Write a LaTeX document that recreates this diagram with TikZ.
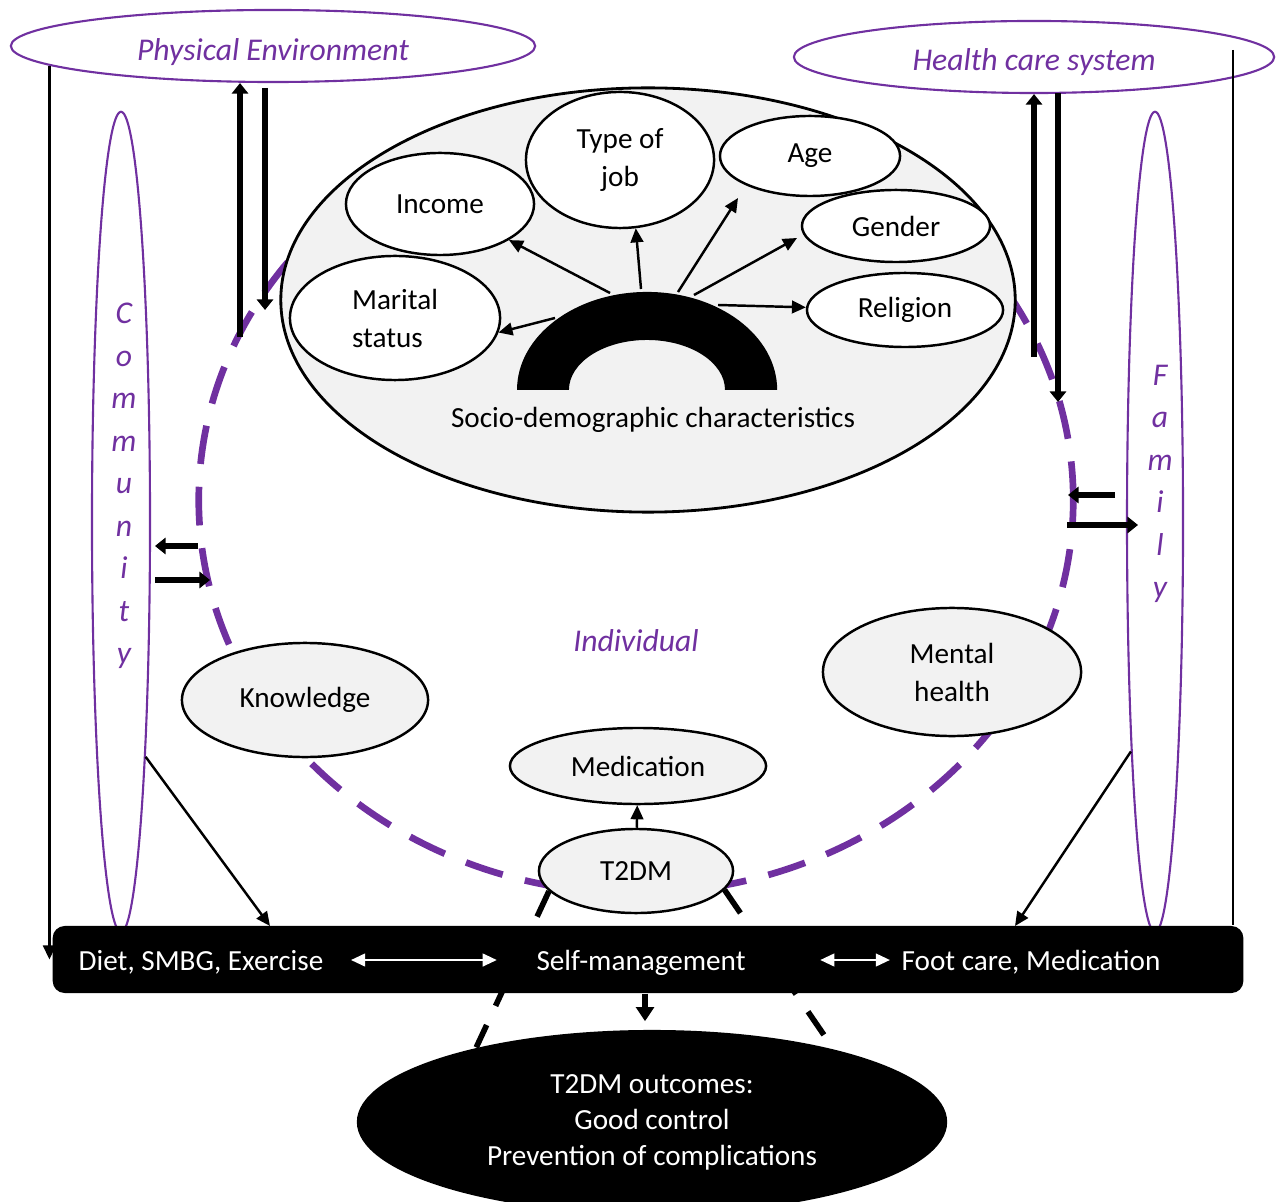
\documentclass[tikz,border=0pt]{standalone}
\usepackage{fontspec}
\setmainfont{Carlito}
\usepackage{xcolor}
\usepackage{tikz}
\usetikzlibrary{shapes.geometric,arrows.meta}
\definecolor{violetline}{HTML}{7030A0}
\definecolor{paleback}{HTML}{F2F2F2}

\begin{document}
\begin{tikzpicture}[x=0.01cm, y=-0.01cm,
  every node/.style={font=\fontsize{8.3}{10.8}\selectfont},
  outeroval/.style={ellipse, draw=violetline, line width=0.6pt, inner sep=0pt},
  ovallabel/.style={text=violetline, font=\fontsize{9}{12.1}\selectfont\itshape, inner sep=0pt, align=center},
  whiteoval/.style={ellipse, draw, fill=white, line width=0.7pt, inner sep=0pt, align=center},
  greyoval/.style={ellipse, draw, fill=paleback, line width=0.7pt, inner sep=0pt, align=center},
  thinarrow/.style={line width=0.7pt, -{Triangle[length=4pt, width=3.6pt]}},
  boldarrow/.style={line width=1.9pt, -{Triangle[length=3pt, width=4.6pt]}},
  blackdash/.style={line width=1.6pt, dash pattern=on 8pt off 6pt},
  bartext/.style={text=white, inner sep=0pt, text height=1.6ex, text depth=0.4ex},
  whitearrow/.style={white, line width=0.6pt, {Triangle[length=4pt, width=3.6pt]}-{Triangle[length=4pt, width=3.6pt]}}]
\useasboundingbox (0,0) rectangle (1277,1201);

% outer levels
\node[outeroval, minimum width=5.24cm, minimum height=0.72cm] (physical) at (273,46) {};
\node[ovallabel] (physlabel) at (273,52) {Physical Environment};
\node[outeroval, minimum width=4.80cm, minimum height=0.72cm] (healthcare) at (1034,57) {};
\node[ovallabel] (hclabel) at (1034,62) {Health care system};
\node[outeroval, minimum width=0.58cm, minimum height=8.20cm] (community) at (121,522) {};
\node[ovallabel] (commlabel) at (124,486) {C\\o\\m\\m\\u\\n\\i\\t\\y};
\node[outeroval, minimum width=0.56cm, minimum height=8.20cm] (family) at (1155,522) {};
\node[ovallabel] (famlabel) at (1160,484) {F\\a\\m\\i\\l\\y};

\coordinate (hcline) at (1233,50);

% individual
\node[ellipse, draw=violetline, line width=1.9pt, dash pattern=on 11pt off 6.5pt, inner sep=0pt,
  minimum width=8.74cm, minimum height=7.86cm] (individual) at (636,500) {};
\node[ovallabel] (indlabel) at (636,641) {Individual};

% socio-demographic
\node[ellipse, draw, fill=paleback, line width=0.8pt, minimum width=7.34cm, minimum height=4.24cm] (socio) at (648,300) {};
\node[whiteoval, minimum width=1.88cm, minimum height=1.02cm] (income) at (440,204) {Income};
\node[whiteoval, minimum width=1.88cm, minimum height=1.36cm] (job) at (620,160) {Type of\\job};
\node[whiteoval, minimum width=1.80cm, minimum height=0.80cm] (age) at (810,156) {Age};
\node[whiteoval, minimum width=1.88cm, minimum height=0.72cm] (gender) at (896,226) {Gender};
\node[whiteoval, minimum width=1.96cm, minimum height=0.74cm] (religion) at (905,310) {Religion};
\node[whiteoval, align=left, minimum width=2.10cm, minimum height=1.24cm] (marital) at (395,318) {Marital\\status};

\fill (517,390) arc[start angle=180, end angle=0, x radius=1.3cm, y radius=0.98cm]
  -- (725,390) arc[start angle=0, end angle=180, x radius=0.78cm, y radius=0.5cm] -- cycle;
\coordinate (hubmarital) at (555,318);
\coordinate (hubincome) at (610,293);
\coordinate (hubjob) at (641,289);
\coordinate (hubage) at (678,292);
\coordinate (hubgender) at (694,295);
\coordinate (hubreligion) at (718,305);
\coordinate (agetip) at (738,198);
\coordinate (gendertip) at (797,238);

\draw[thinarrow] (hubmarital) -- (marital.-8);
\draw[thinarrow] (hubincome) -- (income);
\draw[thinarrow] (hubjob) -- (job.-77);
\draw[thinarrow] (hubage) -- (agetip);
\draw[thinarrow] (hubgender) -- (gendertip);
\draw[thinarrow] (hubreligion) -- (religion);
\node (sociolabel) at (653,420) {Socio-demographic characteristics};

% arrows between levels
\coordinate (peup) at (240,337);
\coordinate (pedowntop) at (265,88);
\coordinate (pedown) at (265,310);
\coordinate (hcup) at (1034,357);
\coordinate (hcdowntop) at (1058,93);
\coordinate (hcdown) at (1058,402);
\draw[boldarrow] (peup) -- (peup |- physical.south);
\draw[boldarrow] (pedowntop) -- (pedown);
\draw[boldarrow] (hcup) -- (healthcare.south);
\draw[boldarrow] (hcdowntop) -- (hcdown);

\coordinate (comin) at (198,546);
\coordinate (comintip) at (155,546);
\coordinate (comout) at (155,580);
\coordinate (comouttip) at (210,580);
\coordinate (famin) at (1115,495);
\coordinate (famintip) at (1068,495);
\coordinate (famout) at (1067,525);
\coordinate (famouttip) at (1138,525);
\draw[boldarrow] (comin) -- (comintip);
\draw[boldarrow] (comout) -- (comouttip);
\draw[boldarrow] (famin) -- (famintip);
\draw[boldarrow] (famout) -- (famouttip);

% individual factors
\node[greyoval, minimum width=2.46cm, minimum height=1.14cm] (knowledge) at (305,700) {Knowledge};
\node[greyoval, minimum width=2.58cm, minimum height=1.28cm] (mental) at (952,672) {Mental\\health};
\node[greyoval, minimum width=2.56cm, minimum height=0.76cm] (medication) at (638,766) {Medication};
\node[greyoval, minimum width=1.94cm, minimum height=0.84cm] (tdm) at (636,871) {T2DM};
\draw[thinarrow] (tdm) -- (medication);

% self-management
\node[rectangle, fill=black, rounded corners=0.12cm, minimum width=11.90cm, minimum height=0.67cm] (selfbox) at (648,959.5) {};
\draw[line width=0.7pt, -{Triangle[length=4pt, width=3.6pt]}] (physical.-175) -- (physical.-175 |- selfbox.west);
\draw[line width=0.7pt] (hcline) -- (hcline |- selfbox.north);

% outcomes
\node[ellipse, fill=black, text=white, align=center, inner sep=0pt, minimum width=5.90cm, minimum height=1.84cm,
  font=\fontsize{8.3}{10.2}\selectfont] (outcome) at (652,1122) {T2DM outcomes:\\Good control\\Prevention of complications};
\draw[line width=1.5pt, -{Triangle[length=4pt, width=5pt]}] ([xshift=-0.03cm]selfbox.south) -- ([xshift=-0.03cm, yshift=0.08cm]selfbox.south |- outcome.north);
\draw[blackdash] (tdm.-167) -- (outcome.157);
\draw[blackdash] (tdm.-12) -- (outcome.22);

\node[bartext] (diet) at (201,960) {Diet, SMBG, Exercise};
\node[bartext] (selfm) at (641,960) {Self-management};
\node[bartext] (footcare) at (1031,960) {Foot care, Medication};
\draw[whitearrow, shorten <=0.27cm, shorten >=0.39cm] (diet.east) -- (selfm.west);
\draw[whitearrow, shorten <=0.74cm, shorten >=0.11cm] (selfm.east) -- (footcare.west);

\coordinate (dietin) at (270,926);
\coordinate (footin) at (1015,926);
\draw[thinarrow] (community.-84.7) -- (dietin);
\draw[thinarrow] (family.-96.4) -- (footin);

\end{tikzpicture}
\end{document}
